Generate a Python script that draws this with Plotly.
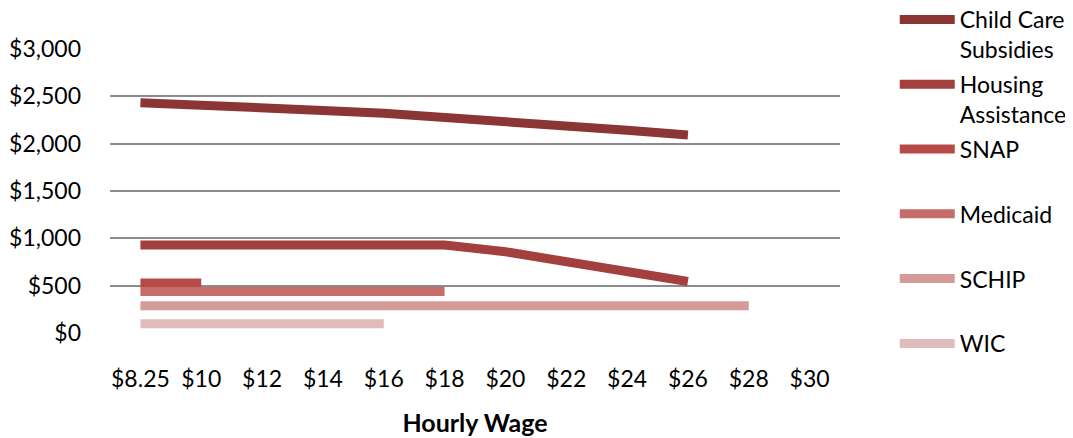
import plotly.graph_objects as go

wages = ["$8.25", "$10", "$12", "$14", "$16", "$18", "$20", "$22", "$24", "$26", "$28", "$30"]

child_care = [2430, 2410, 2390, 2350, 2320, 2280, 2230, 2190, 2140, 2090, None, None]
housing = [930, 930, 930, 930, 930, 930, 860, 755, 650, 545, None, None]
snap = [530, 530, None, None, None, None, None, None, None, None, None, None]
medicaid = [440, 440, 440, 440, 440, 440, None, None, None, None, None, None]
schip = [290, 290, 290, 290, 290, 290, 290, 290, 290, 290, 290, None]
wic = [100, 100, 100, 100, 100, None, None, None, None, None, None, None]

series = [
    ("Child Care<br>Subsidies", child_care, "#8C3535"),
    ("Housing<br>Assistance", housing, "#A33F3D"),
    ("SNAP<br> ", snap, "#B64A47"),
    ("Medicaid<br> ", medicaid, "#C66D6B"),
    ("SCHIP<br> ", schip, "#D49B99"),
    ("WIC<br> ", wic, "#E0BDBC"),
]

FONT = "Lato"

fig = go.Figure()
for i, (name, vals, color) in enumerate(series):
    fig.add_trace(go.Scatter(
        x=wages, y=vals, name=name, mode="lines",
        line=dict(color=color, width=9),
        legendgroup=f"g{i}", connectgaps=False,
    ))

fig.update_layout(
    width=1073, height=438,
    margin=dict(l=102, r=241, t=40, b=112, autoexpand=False),
    paper_bgcolor="white", plot_bgcolor="white",
    font=dict(family=FONT, size=23, color="#000000"),
    showlegend=True,
    legend=dict(
        x=1.075, xref="paper", xanchor="left",
        y=1.175, yref="paper", yanchor="top",
        itemwidth=55, valign="top", tracegroupgap=2, maxheight=1,
        font=dict(family=FONT, size=23, color="#000000"),
        bgcolor="rgba(0,0,0,0)",
    ),
    xaxis=dict(
        type="category", categoryorder="array", categoryarray=wages,
        range=[-0.5, 11.5], showgrid=False, zeroline=False, showline=False,
        ticks="", ticklabelstandoff=29,
        tickfont=dict(family=FONT, size=23),
        title=dict(text="<b>Hourly Wage</b>", font=dict(family=FONT, size=25), standoff=23),
    ),
    yaxis=dict(
        range=[-8, 3008], tickvals=[0, 500, 1000, 1500, 2000, 2500, 3000],
        ticktext=["$0", "$500", "$1,000", "$1,500", "$2,000", "$2,500", "$3,000"],
        showgrid=True, gridcolor="#8C8C8C", gridwidth=2,
        zeroline=False, showline=False, ticks="", ticklabelstandoff=28,
        tickfont=dict(family=FONT, size=23),
    ),
)

fig.write_html("out.html")
